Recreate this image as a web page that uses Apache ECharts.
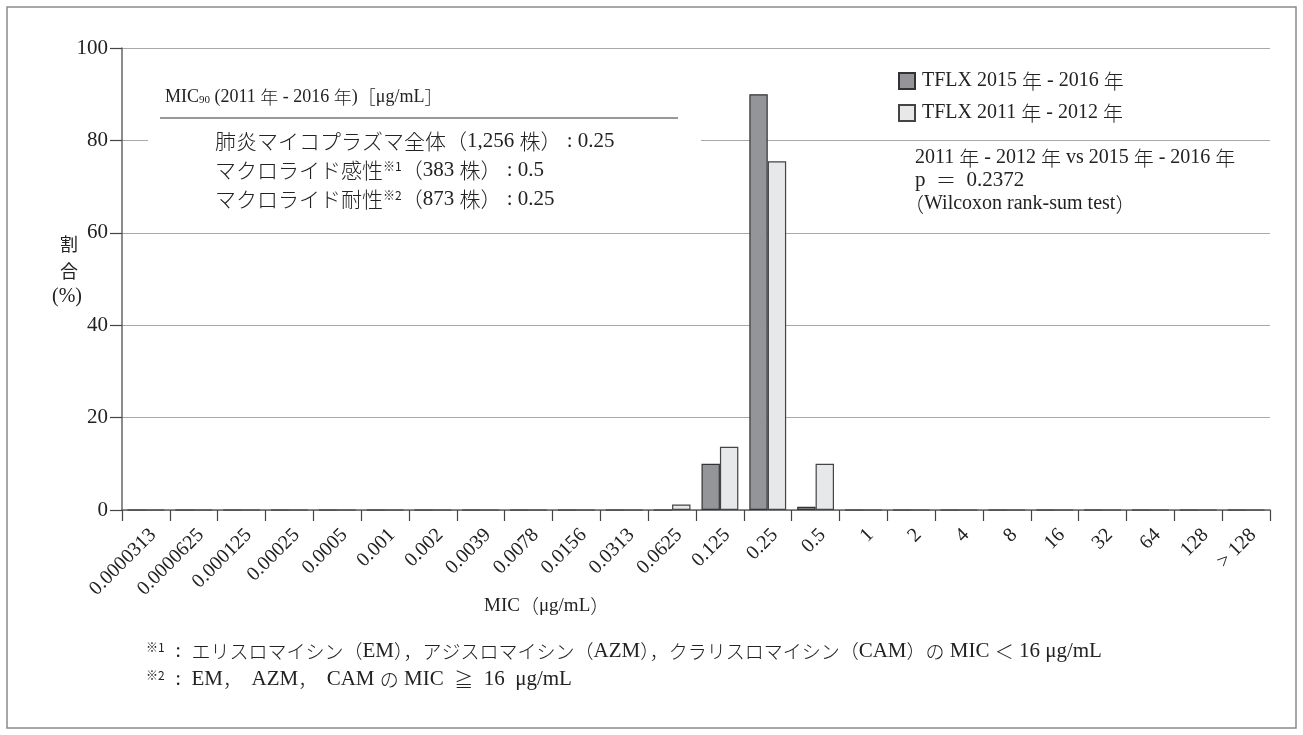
<!DOCTYPE html>
<html>
<head>
<meta charset="utf-8">
<script src="https://cdn.jsdelivr.net/npm/echarts@6/dist/echarts.min.js"></script>
<style>
html,body{margin:0;padding:0;background:#fff;}
#chart{width:1303px;height:735px;}
</style>
</head>
<body>
<div id="chart"></div>
<script>
const categories = ['0.0000313','0.0000625','0.000125','0.00025','0.0005','0.001','0.002','0.0039','0.0078','0.0156','0.0313','0.0625','0.125','0.25','0.5','1','2','4','8','16','32','64','128','> 128'];
const seriesNames = ['TFLX 2015 年 - 2016 年', 'TFLX 2011 年 - 2012 年'];
const tflx2015 = [0,0,0,0,0,0,0,0,0,0,0,0,10.0,90.0,0.7,0,0,0,0,0,0,0,0,0];
const tflx2011 = [0,0,0,0,0,0,0,0,0,0,0,1.2,13.7,75.5,10.0,0,0,0,0,0,0,0,0,0];
const yTicks = [0,20,40,60,80,100];

const FONT = "'Liberation Serif','DejaVu Serif','Noto Sans CJK JP',serif";
const JFONT = "'Noto Sans CJK JP','Liberation Serif',serif";
const INK = '#222';

// split text into CJK / latin runs for rich text
const CJK = /([\u3000-\u30ff\u4e00-\u9fff\uff00-\uffef\u203b\u2267]+)/;
function mix(text, tag) {
  return text.split(CJK).filter(p => p.length).map(p =>
    CJK.test(p) ? '{j' + tag + '|' + p + '}' : '{a' + tag + '|' + p + '}'
  ).join('');
}
function richSet(tag, latin, cjk) {
  const r = {};
  r['a' + tag] = { fontSize: latin, fontFamily: FONT, fill: INK, color: INK };
  r['j' + tag] = { fontSize: cjk, fontFamily: JFONT, fill: INK, color: INK, fontWeight: 300 };
  return r;
}
const supStyle = { fontSize: 12, fontFamily: JFONT, fill: INK, verticalAlign: 'top', padding: [0,0,9,0] };
const subStyle = { fontSize: 11, fontFamily: FONT, fill: INK, verticalAlign: 'bottom', padding: [7,0,0,0] };
const RH = Object.assign(richSet('H', 18, 18), { sub: subStyle });
const RL = Object.assign(richSet('', 21, 21), { s: supStyle });
const RF = Object.assign(richSet('F', 21, 19), { s: supStyle });

const chart = echarts.init(document.getElementById('chart'));

chart.setOption({
  animation: false,
  backgroundColor: '#fff',
  textStyle: { fontFamily: FONT, color: INK },
  grid: { left: 122, right: 33, top: 48, bottom: 225, containLabel: false },
  legend: {
    orient: 'vertical',
    left: 893, top: 66,
    itemWidth: 16, itemHeight: 16, itemGap: 12,
    data: seriesNames,
    icon: 'rect',
    formatter: n => mix(n, 'L'),
    textStyle: { padding: [0,0,0,2], rich: richSet('L', 20, 20) }
  },
  xAxis: {
    type: 'category',
    data: categories,
    boundaryGap: true,
    axisLine: { lineStyle: { color: '#666', width: 1.5 } },
    axisTick: { show: true, length: 11, lineStyle: { color: '#444', width: 1.2 }, alignWithLabel: false },
    axisLabel: { rotate: 45, fontSize: 20, color: INK, fontFamily: FONT, margin: 15, interval: 0, verticalAlign: 'top' },
    splitLine: { show: false }
  },
  yAxis: {
    type: 'value',
    min: 0, max: 100, interval: 20,
    axisLine: { show: true, lineStyle: { color: '#666', width: 1.5 } },
    axisTick: { show: true, length: 12, lineStyle: { color: '#444', width: 1.2 } },
    axisLabel: { fontSize: 21, color: INK, fontFamily: FONT, margin: 14,
      formatter: v => yTicks.includes(v) ? String(v) : '' },
    splitLine: { show: true, lineStyle: { color: '#a8a8a8', width: 1.2 } }
  },
  series: [
    {
      name: seriesNames[0], type: 'bar', data: tflx2015,
      barGap: '0%', barCategoryGap: '23%',
      itemStyle: { color: '#939598', borderColor: '#333', borderWidth: 1.2 },
      z: 3
    },
    {
      name: seriesNames[1], type: 'bar', data: tflx2011,
      barGap: '0%', barCategoryGap: '23%',
      itemStyle: { color: '#e7e8e9', borderColor: '#444', borderWidth: 1.2 },
      z: 3
    }
  ],
  graphic: [
    { type: 'rect', shape: { x: 7, y: 7, width: 1289, height: 721 }, style: { fill: 'none', stroke: '#8a8a8a', lineWidth: 1.5 }, z: 0, silent: true },
    { type: 'rect', shape: { x: 148, y: 124, width: 553, height: 90 }, style: { fill: '#fff' }, z: 1, silent: true },
    { type: 'line', shape: { x1: 160, y1: 118, x2: 678, y2: 118 }, style: { stroke: '#333', lineWidth: 1.2 }, z: 2, silent: true },
    { type: 'text', left: 165, top: 88, z: 2, style: {
        text: '{aH|MIC}{sub|90}' + mix(' (2011 年 - 2016 年)［μg/mL］', 'H'), rich: RH } },
    { type: 'text', left: 215, top: 131, z: 2, style: { text: mix('肺炎マイコプラズマ全体（1,256 株） : 0.25', ''), rich: RL } },
    { type: 'text', left: 215, top: 160, z: 2, style: { text: mix('マクロライド感性', '') + '{s|※1}' + mix('（383 株） : 0.5', ''), rich: RL } },
    { type: 'text', left: 215, top: 189, z: 2, style: { text: mix('マクロライド耐性', '') + '{s|※2}' + mix('（873 株） : 0.25', ''), rich: RL } },
    { type: 'text', left: 915, top: 148, z: 2, style: { text: mix('2011 年 - 2012 年 vs 2015 年 - 2016 年', 'B'), rich: richSet('B', 20, 20) } },
    { type: 'text', left: 915, top: 170, z: 2, style: { text: mix('p  ＝  0.2372', 'B'), rich: richSet('B', 21, 20) } },
    { type: 'text', left: 904, top: 194, z: 2, style: { text: mix('（Wilcoxon rank-sum test）', 'B'), rich: richSet('B', 20, 20) } },
    { type: 'text', left: 60, top: 235, z: 2, style: { text: '割', fontSize: 18, fontFamily: JFONT, fill: INK } },
    { type: 'text', left: 60, top: 262, z: 2, style: { text: '合', fontSize: 18, fontFamily: JFONT, fill: INK } },
    { type: 'text', left: 52, top: 287, z: 2, style: { text: '(%)', fontSize: 20, fontFamily: FONT, fill: INK } },
    { type: 'text', left: 484, top: 597, z: 2, style: { text: mix('MIC（μg/mL）', 'C'), rich: richSet('C', 19, 19) } },
    { type: 'text', left: 146, top: 641, z: 2, style: {
        text: '{s|※1}' + mix('  :  エリスロマイシン（EM），アジスロマイシン（AZM），クラリスロマイシン（CAM）の MIC ＜ 16 μg/mL', 'F'),
        rich: RF } },
    { type: 'text', left: 146, top: 669, z: 2, style: {
        text: '{s|※2}' + mix('  :  EM，　AZM，　CAM の MIC  ≧  16  μg/mL', 'F'),
        rich: RF } }
  ]
});
</script>
</body>
</html>
